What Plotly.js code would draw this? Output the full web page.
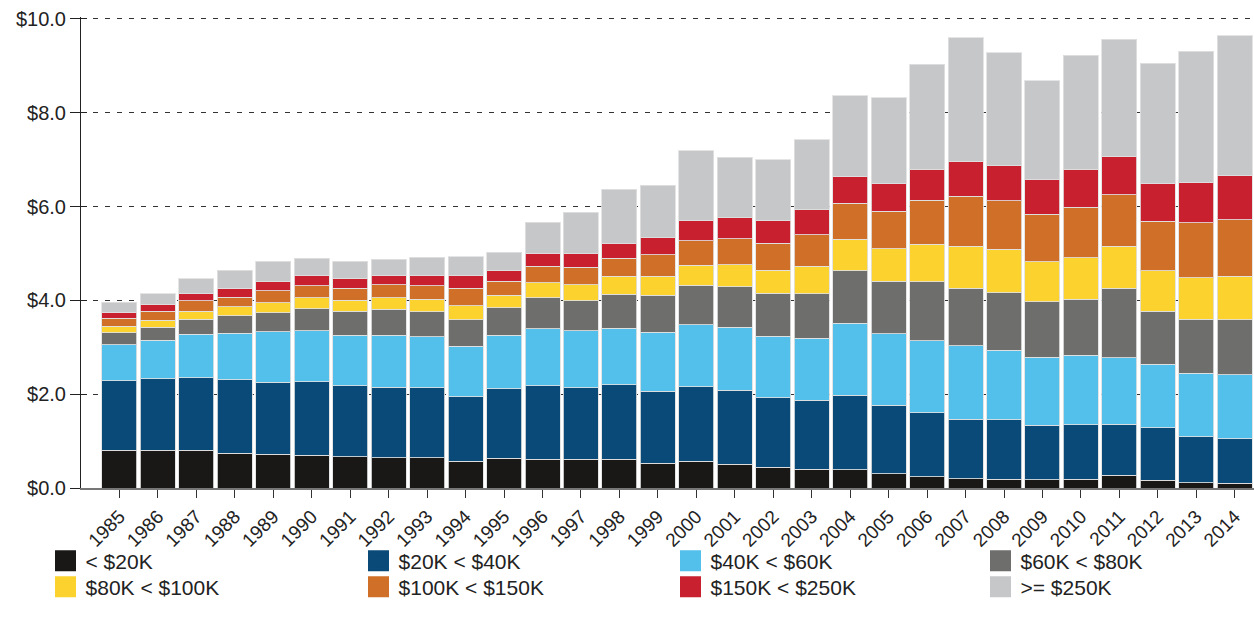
<!DOCTYPE html>
<html>
<head>
<meta charset="utf-8">
<script src="https://cdn.plot.ly/plotly-3.0.1.min.js"></script>
<style>html,body{margin:0;padding:0;background:#fff;}#chart{width:1254px;height:626px;}</style>
</head>
<body>
<div id="chart"></div>
<script>
const years = ["1985","1986","1987","1988","1989","1990","1991","1992","1993","1994","1995","1996","1997","1998","1999","2000","2001","2002","2003","2004","2005","2006","2007","2008","2009","2010","2011","2012","2013","2014"];
const seriesNames = ["< $20K","$20K < $40K","$40K < $60K","$60K < $80K","$80K < $100K","$100K < $150K","$150K < $250K",">= $250K"];
const seriesColors = ["#1a1816","#0a4a78","#52c0eb","#6e6e6c","#fbd22e","#d07028","#c8202e","#c6c7c9"];
const under20 = [0.80,0.80,0.80,0.74,0.72,0.70,0.67,0.65,0.65,0.57,0.63,0.61,0.61,0.61,0.53,0.57,0.51,0.44,0.40,0.39,0.30,0.24,0.20,0.19,0.18,0.19,0.27,0.16,0.11,0.10];
const k20to40 = [1.49,1.53,1.55,1.57,1.53,1.57,1.51,1.50,1.49,1.37,1.49,1.57,1.53,1.59,1.53,1.59,1.57,1.48,1.47,1.59,1.46,1.36,1.27,1.27,1.16,1.16,1.09,1.12,0.98,0.95];
const k40to60 = [0.76,0.82,0.93,0.99,1.08,1.08,1.08,1.11,1.08,1.08,1.14,1.22,1.21,1.21,1.26,1.32,1.35,1.31,1.32,1.53,1.53,1.54,1.56,1.48,1.45,1.48,1.42,1.36,1.36,1.36];
const k60to80 = [0.26,0.28,0.32,0.37,0.41,0.47,0.51,0.55,0.54,0.57,0.58,0.66,0.64,0.72,0.79,0.84,0.86,0.92,0.95,1.12,1.12,1.26,1.23,1.22,1.18,1.19,1.48,1.13,1.15,1.18];
const k80to100 = [0.14,0.15,0.17,0.19,0.21,0.24,0.23,0.25,0.26,0.30,0.27,0.32,0.34,0.38,0.40,0.43,0.47,0.49,0.59,0.67,0.69,0.80,0.89,0.93,0.85,0.89,0.89,0.86,0.88,0.92];
const k100to150 = [0.17,0.19,0.22,0.21,0.25,0.25,0.26,0.27,0.29,0.37,0.30,0.35,0.38,0.39,0.46,0.52,0.55,0.58,0.67,0.77,0.80,0.93,1.07,1.03,1.02,1.08,1.10,1.06,1.17,1.21];
const k150to250 = [0.13,0.15,0.15,0.19,0.20,0.23,0.20,0.21,0.23,0.27,0.22,0.27,0.28,0.32,0.36,0.43,0.45,0.48,0.53,0.56,0.59,0.67,0.75,0.75,0.74,0.80,0.81,0.81,0.86,0.94];
const over250 = [0.21,0.22,0.32,0.38,0.43,0.36,0.37,0.34,0.38,0.40,0.40,0.66,0.89,1.15,1.12,1.49,1.29,1.30,1.49,1.73,1.83,2.23,2.63,2.41,2.10,2.43,2.51,2.55,2.80,2.98];
const seriesValues = [under20,k20to40,k40to60,k60to80,k80to100,k100to150,k150to250,over250];
const yTickVals = [0,2,4,6,8,10];
const yTickText = ["$0.0","$2.0","$4.0","$6.0","$8.0","$10.0"];

const font = "Liberation Sans, Arial, Helvetica, sans-serif";
const traces = [];
seriesValues.forEach((vals, i) => {
  traces.push({
    type: "bar", x: years, y: vals, name: seriesNames[i],
    showlegend: false,
    marker: {color: seriesColors[i], line: {color: "rgba(225,225,225,0.85)", width: 1}},
    hoverinfo: "x+y+name"
  });
});
seriesValues.forEach((vals, i) => {
  traces.push({
    type: "scatter", mode: "markers", x: [null], y: [null], name: seriesNames[i],
    yaxis: i === 0 ? "y2" : "y",
    showlegend: true, legend: i === 0 ? "legend" : "legend" + (i + 1),
    marker: {symbol: "square", size: 16, color: seriesColors[i], line: {color: seriesColors[i], width: 5}}
  });
});

const legendColX = [0.0363, 0.2859, 0.5347, 0.7819];
const legendRowY = [0.1366, 0.0950];
function makeLegend(i) {
  return {
    orientation: "v", xref: "container", yref: "container",
    x: legendColX[i % 4], y: legendRowY[Math.floor(i / 4)], xanchor: "left", yanchor: "top",
    itemsizing: "trace", bgcolor: "rgba(0,0,0,0)",
    font: {family: font, size: 21, color: "#222"}
  };
}

const layout = {
  width: 1254, height: 626,
  margin: {l: 81, r: 0, t: 17, b: 138, autoexpand: false},
  paper_bgcolor: "#fff", plot_bgcolor: "#fff",
  barmode: "stack", bargap: 0.09,
  font: {family: font, size: 20, color: "#222"},
  showlegend: true,
  xaxis: {
    type: "category", range: [-1, 29.5], dtick: 1,
    showline: true, linecolor: "#777", linewidth: 2,
    ticks: "outside", ticklen: 8, tickcolor: "#333", tickwidth: 1,
    tickangle: -45, showgrid: false, zeroline: false, automargin: false,
    tickfont: {family: font, size: 19, color: "#222"}
  },
  yaxis: {
    range: [0, 10.04], tickmode: "array", tickvals: yTickVals, ticktext: yTickText,
    showline: true, linecolor: "#222", linewidth: 1,
    ticks: "outside", ticklen: 10, tickcolor: "#222",
    showgrid: true, gridcolor: "#333", gridwidth: 1, griddash: "5px,7px",
    zeroline: false, automargin: false,
    tickfont: {family: font, size: 20, color: "#222"}
  },
  yaxis2: {
    overlaying: "y", side: "left", range: [0, 10.04],
    tickmode: "array", tickvals: yTickVals, showticklabels: false,
    ticks: "inside", ticklen: 6, tickcolor: "#222",
    showline: false, showgrid: false, zeroline: false, automargin: false
  }
};
for (let i = 0; i < 8; i++) {
  layout[i === 0 ? "legend" : "legend" + (i + 1)] = makeLegend(i);
}

Plotly.newPlot("chart", traces, layout, {displayModeBar: false, staticPlot: true});
</script>
</body>
</html>
